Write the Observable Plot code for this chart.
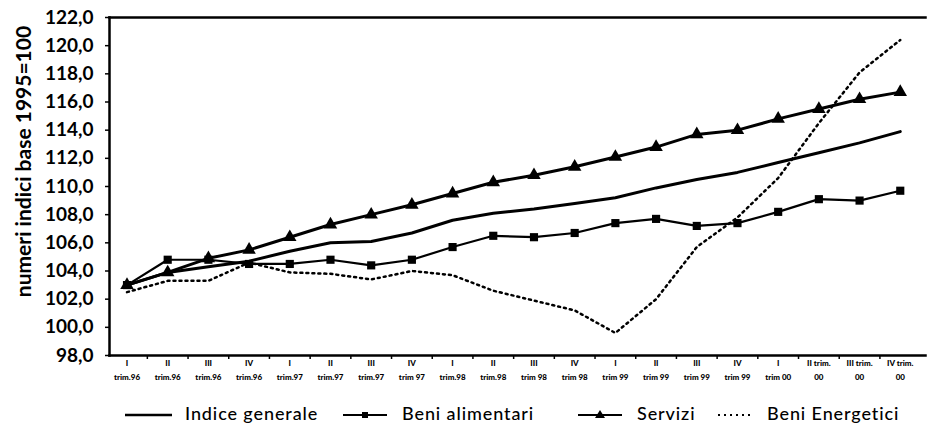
<!DOCTYPE html>
<html>
<head>
<meta charset="utf-8">
<script src="https://cdn.jsdelivr.net/npm/d3@7"></script>
<script src="https://cdn.jsdelivr.net/npm/@observablehq/plot@0.6"></script>
<style>
  body { margin: 0; background: #fff; font-family: Lato, "DejaVu Sans", sans-serif; }
  #legend { position: relative; width: 927px; height: 33px; }
  #legend .item { position: absolute; top: 12px; font-size: 18px; line-height: 22px; letter-spacing: 0.9px; font-weight: 500; color: #000; white-space: nowrap; }
  #legend svg { position: absolute; top: 0; }
</style>
</head>
<body>
<div id="chart"></div>
<div id="legend"></div>
<script>
const quarters = [
  "I\ntrim.96", "II\ntrim.96", "III\ntrim.96", "IV\ntrim.96",
  "I\ntrim.97", "II\ntrim.97", "III\ntrim.97", "IV\ntrim 97",
  "I\ntrim.98", "II\ntrim.98", "III\ntrim 98", "IV\ntrim 98",
  "I\ntrim 99", "II\ntrim 99", "III\ntrim 99", "IV\ntrim 99",
  "I\ntrim 00", "II trim.\n00", "III trim.\n00", "IV trim.\n00"
];
const indiceGenerale = [103.0, 103.9, 104.3, 104.7, 105.4, 106.0, 106.1, 106.7, 107.6, 108.1, 108.4, 108.8, 109.2, 109.9, 110.5, 111.0, 111.7, 112.4, 113.1, 113.9];
const beniAlimentari = [103.0, 104.8, 104.8, 104.5, 104.5, 104.8, 104.4, 104.8, 105.7, 106.5, 106.4, 106.7, 107.4, 107.7, 107.2, 107.4, 108.2, 109.1, 109.0, 109.7];
const servizi = [103.0, 103.9, 104.9, 105.5, 106.4, 107.3, 108.0, 108.7, 109.5, 110.3, 110.8, 111.4, 112.1, 112.8, 113.7, 114.0, 114.8, 115.5, 116.2, 116.7];
const beniEnergetici = [102.5, 103.3, 103.3, 104.6, 103.9, 103.8, 103.4, 104.0, 103.7, 102.6, 101.9, 101.2, 99.6, 102.0, 105.7, 107.8, 110.6, 114.5, 118.1, 120.4];
const yTicks = [98, 100, 102, 104, 106, 108, 110, 112, 114, 116, 118, 120, 122];
const yLabel = "numeri indici base 1995=100";
const legendLabels = ["Indice generale", "Beni alimentari", "Servizi", "Beni Energetici"];

const idx = quarters.map((_, i) => i);
const toRows = (arr) => arr.map((v, i) => ({q: i, v}));
const boundaries = idx.slice(1).map(i => i - 0.5);
const fmt = d => d.toFixed(1).replace(".", ",");

const chart = Plot.plot({
  width: 927,
  height: 390,
  marginLeft: 109,
  marginRight: 2,
  marginTop: 17,
  marginBottom: 35,
  x: {type: "linear", domain: [-0.43, 19.62]},
  y: {domain: [98, 122]},
  style: {fontFamily: "Lato, 'DejaVu Sans', sans-serif", color: "#000", background: "#fff"},
  marks: [
    Plot.axisY(yTicks, {tickSize: 4, tickPadding: 12, tickFormat: fmt, fontSize: 19, fontWeight: "bold", label: null, strokeWidth: 1.5}),
    Plot.axisX(idx, {tickSize: 0, tickPadding: 1, tickFormat: i => quarters[i], fontSize: 8, fontWeight: "900", lineHeight: 1.75, label: null}),
    Plot.axisX(boundaries, {tickSize: 4, tickFormat: () => "", label: null, strokeWidth: 1.5}),
    Plot.frame({anchor: "top", strokeWidth: 2.5}),
    Plot.frame({anchor: "left", strokeWidth: 2.5}),
    Plot.frame({anchor: "bottom", strokeWidth: 2.5}),
    Plot.text([yLabel], {frameAnchor: "left", textAnchor: "middle", dx: -85, dy: -25, rotate: -90, fontSize: 21, fontWeight: "bold"}),
    Plot.line(toRows(beniEnergetici), {x: "q", y: "v", stroke: "#000", strokeWidth: 2.5, strokeDasharray: "2,4"}),
    Plot.line(toRows(beniAlimentari), {x: "q", y: "v", stroke: "#000", strokeWidth: 2.2}),
    Plot.dot(toRows(beniAlimentari), {x: "q", y: "v", symbol: "square", r: 4.6, fill: "#000"}),
    Plot.line(toRows(indiceGenerale), {x: "q", y: "v", stroke: "#000", strokeWidth: 3}),
    Plot.line(toRows(servizi), {x: "q", y: "v", stroke: "#000", strokeWidth: 3}),
    Plot.dot(toRows(servizi), {x: "q", y: "v", symbol: "triangle", r: 5, fill: "#000"})
  ]
});
document.getElementById("chart").appendChild(chart);

// legend
const legend = document.getElementById("legend");
const items = [
  {sw: 125, w: 47, tx: 185, kind: "line"},
  {sw: 343, w: 44, tx: 402, kind: "square"},
  {sw: 578, w: 44, tx: 637, kind: "triangle"},
  {sw: 718, w: 36, tx: 767, kind: "dots"}
];
items.forEach((it, k) => {
  const ns = "http://www.w3.org/2000/svg";
  const s = document.createElementNS(ns, "svg");
  s.setAttribute("width", it.w); s.setAttribute("height", 33);
  s.style.left = it.sw + "px";
  const ly = 25;
  const l = document.createElementNS(ns, "line");
  l.setAttribute("x1", 0); l.setAttribute("x2", it.w); l.setAttribute("y1", ly); l.setAttribute("y2", ly);
  l.setAttribute("stroke", "#000");
  l.setAttribute("stroke-width", it.kind === "line" ? 2.5 : 2.2);
  if (it.kind === "dots") l.setAttribute("stroke-dasharray", "2,4");
  s.appendChild(l);
  if (it.kind === "square") {
    const r = document.createElementNS(ns, "rect");
    r.setAttribute("x", it.w / 2 - 3); r.setAttribute("y", ly - 3); r.setAttribute("width", 6); r.setAttribute("height", 6);
    s.appendChild(r);
  } else if (it.kind === "triangle") {
    const p = document.createElementNS(ns, "path");
    const cx = it.w / 2;
    p.setAttribute("d", `M${cx},${ly - 5}L${cx + 5},${ly + 3}L${cx - 5},${ly + 3}Z`);
    s.appendChild(p);
  }
  legend.appendChild(s);
  const t = document.createElement("div");
  t.className = "item";
  t.style.left = it.tx + "px";
  t.textContent = legendLabels[k];
  legend.appendChild(t);
});
</script>
</body>
</html>
